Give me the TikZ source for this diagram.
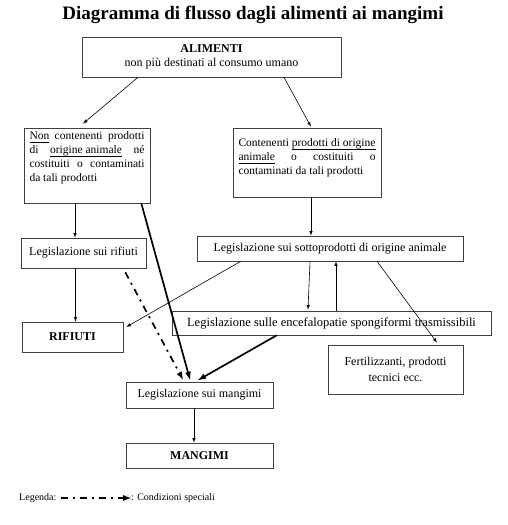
\documentclass[tikz,border=0pt]{standalone}
\usepackage{fontspec}
\setmainfont{Liberation Serif}
\usetikzlibrary{arrows,calc}

\newcommand{\riga}[1]{\makebox[\linewidth][s]{#1}\par}
\newcommand{\sott}[1]{\setbox0\hbox{#1}\rlap{\rule[-2.8pt]{\wd0}{0.5pt}}\box0\relax}

\tikzset{
  scatola/.style={draw=black!75, line width=0.6pt, inner sep=0pt, align=center, font=\fontsize{12}{14}\selectfont},
  testo/.style={font=\fontsize{11.5}{14}\selectfont},
  freccia/.style={-latex, line width=0.6pt},
  grossa/.style={-latex, line width=1.7pt},
  speciale/.style={grossa, dash pattern=on 7pt off 5pt on 2pt off 5pt},
}

\begin{document}
\begin{tikzpicture}[x=1pt,y=-1pt]
\useasboundingbox (0,0) rectangle (507,525);
\node[font=\bfseries\fontsize{19}{21}\selectfont] (titolo) at (253,15) {Diagramma di flusso dagli alimenti ai mangimi};
\node[scatola, minimum width=259pt, minimum height=40pt] (alim) at (211.5,57) {\textbf{ALIMENTI}\\non più destinati al consumo umano};
\node[scatola, testo, minimum width=126pt, minimum height=75pt] (nonanim) at (87,165.5) {\parbox[c][75pt][t]{115pt}{\vspace*{4pt}%
\riga{\sott{Non} contenenti prodotti}
\riga{di \sott{origine animale} né}
\riga{costituiti o contaminati}
da tali prodotti}};
\node[scatola, testo, minimum width=148pt, minimum height=69pt] (anim) at (307,162.5) {\parbox[c][69pt][t]{137pt}{\vspace*{11pt}%
\riga{Contenenti \sott{prodotti di origine}}
\riga{\sott{animale} o costituiti o}
contaminati da tali prodotti}};
\node[scatola, minimum width=125pt, minimum height=30pt] (legrif) at (83.5,253) {Legislazione sui rifiuti};
\node[scatola, minimum width=266pt, minimum height=25pt] (legsotto) at (330,248.5) {Legislazione sui sottoprodotti di origine animale};
\node[scatola, minimum width=319pt, minimum height=24pt, font=\fontsize{12.5}{14}\selectfont] (legtse) at (331.5,323) {Legislazione sulle encefalopatie spongiformi trasmissibili};
\node[scatola, minimum width=101pt, minimum height=30pt] (rif) at (72.5,337) {\textbf{RIFIUTI}};
\node[scatola, minimum width=135pt, minimum height=49pt] (fert) at (395.5,369.5) {Fertilizzanti, prodotti\\[2pt]tecnici ecc.};
\node[scatola, minimum width=147pt, minimum height=26pt] (legmang) at (199.5,395) {Legislazione sui mangimi};
\node[scatola, minimum width=147pt, minimum height=25pt] (mang) at (199.5,455.5) {\textbf{MANGIMI}};

\draw[freccia] ([xshift=-73.5]alim.south) -- ([xshift=-4,yshift=4]nonanim.north);
\draw[freccia] ([xshift=72.5]alim.south) -- ([xshift=4,yshift=1]anim.north);
\draw[freccia] ([xshift=-12]nonanim.south) -- ([xshift=-8.5]legrif.north);
\draw[freccia] ([xshift=4]anim.south) -- ([xshift=-19]legsotto.north);
\draw[freccia] ([xshift=-8]legrif.south) -- ([xshift=3]rif.north);
\draw[grossa] ([xshift=-9]nonanim.south east) -- ([xshift=-9.5,yshift=2]legmang.north);
\draw[speciale] ([xshift=-21,yshift=-4]legrif.south east) -- ([xshift=-16.5,yshift=2]legmang.north);
\draw[freccia] ([xshift=44]legsotto.south west) -- ([xshift=3,yshift=10]rif.east);
\draw[freccia] ([xshift=-20]legsotto.south) -- ([xshift=-23.5,yshift=1]legtse.north);
\draw[freccia] ([xshift=4.5]legtse.north) -- ([xshift=6]legsotto.south);
\draw[freccia] ([xshift=47]legsotto.south) -- ([xshift=41.5,yshift=2]fert.north);
\draw[grossa] ([xshift=105]legtse.south west) -- ([xshift=-1.5,yshift=1.5]legmang.north);
\draw[freccia] ([xshift=-5.5]legmang.south) -- ([xshift=-5.5]mang.north);

% legenda
\node[inner sep=0pt, anchor=west, font=\fontsize{10}{12}\selectfont] (legenda) at (19,498) {Legenda:};
\node[inner sep=0pt, anchor=west, font=\fontsize{10}{12}\selectfont] (cond) at (131,498) {: Condizioni speciali};
\draw[speciale] ([xshift=4]legenda.east) -- (cond.west);
\end{tikzpicture}
\end{document}
